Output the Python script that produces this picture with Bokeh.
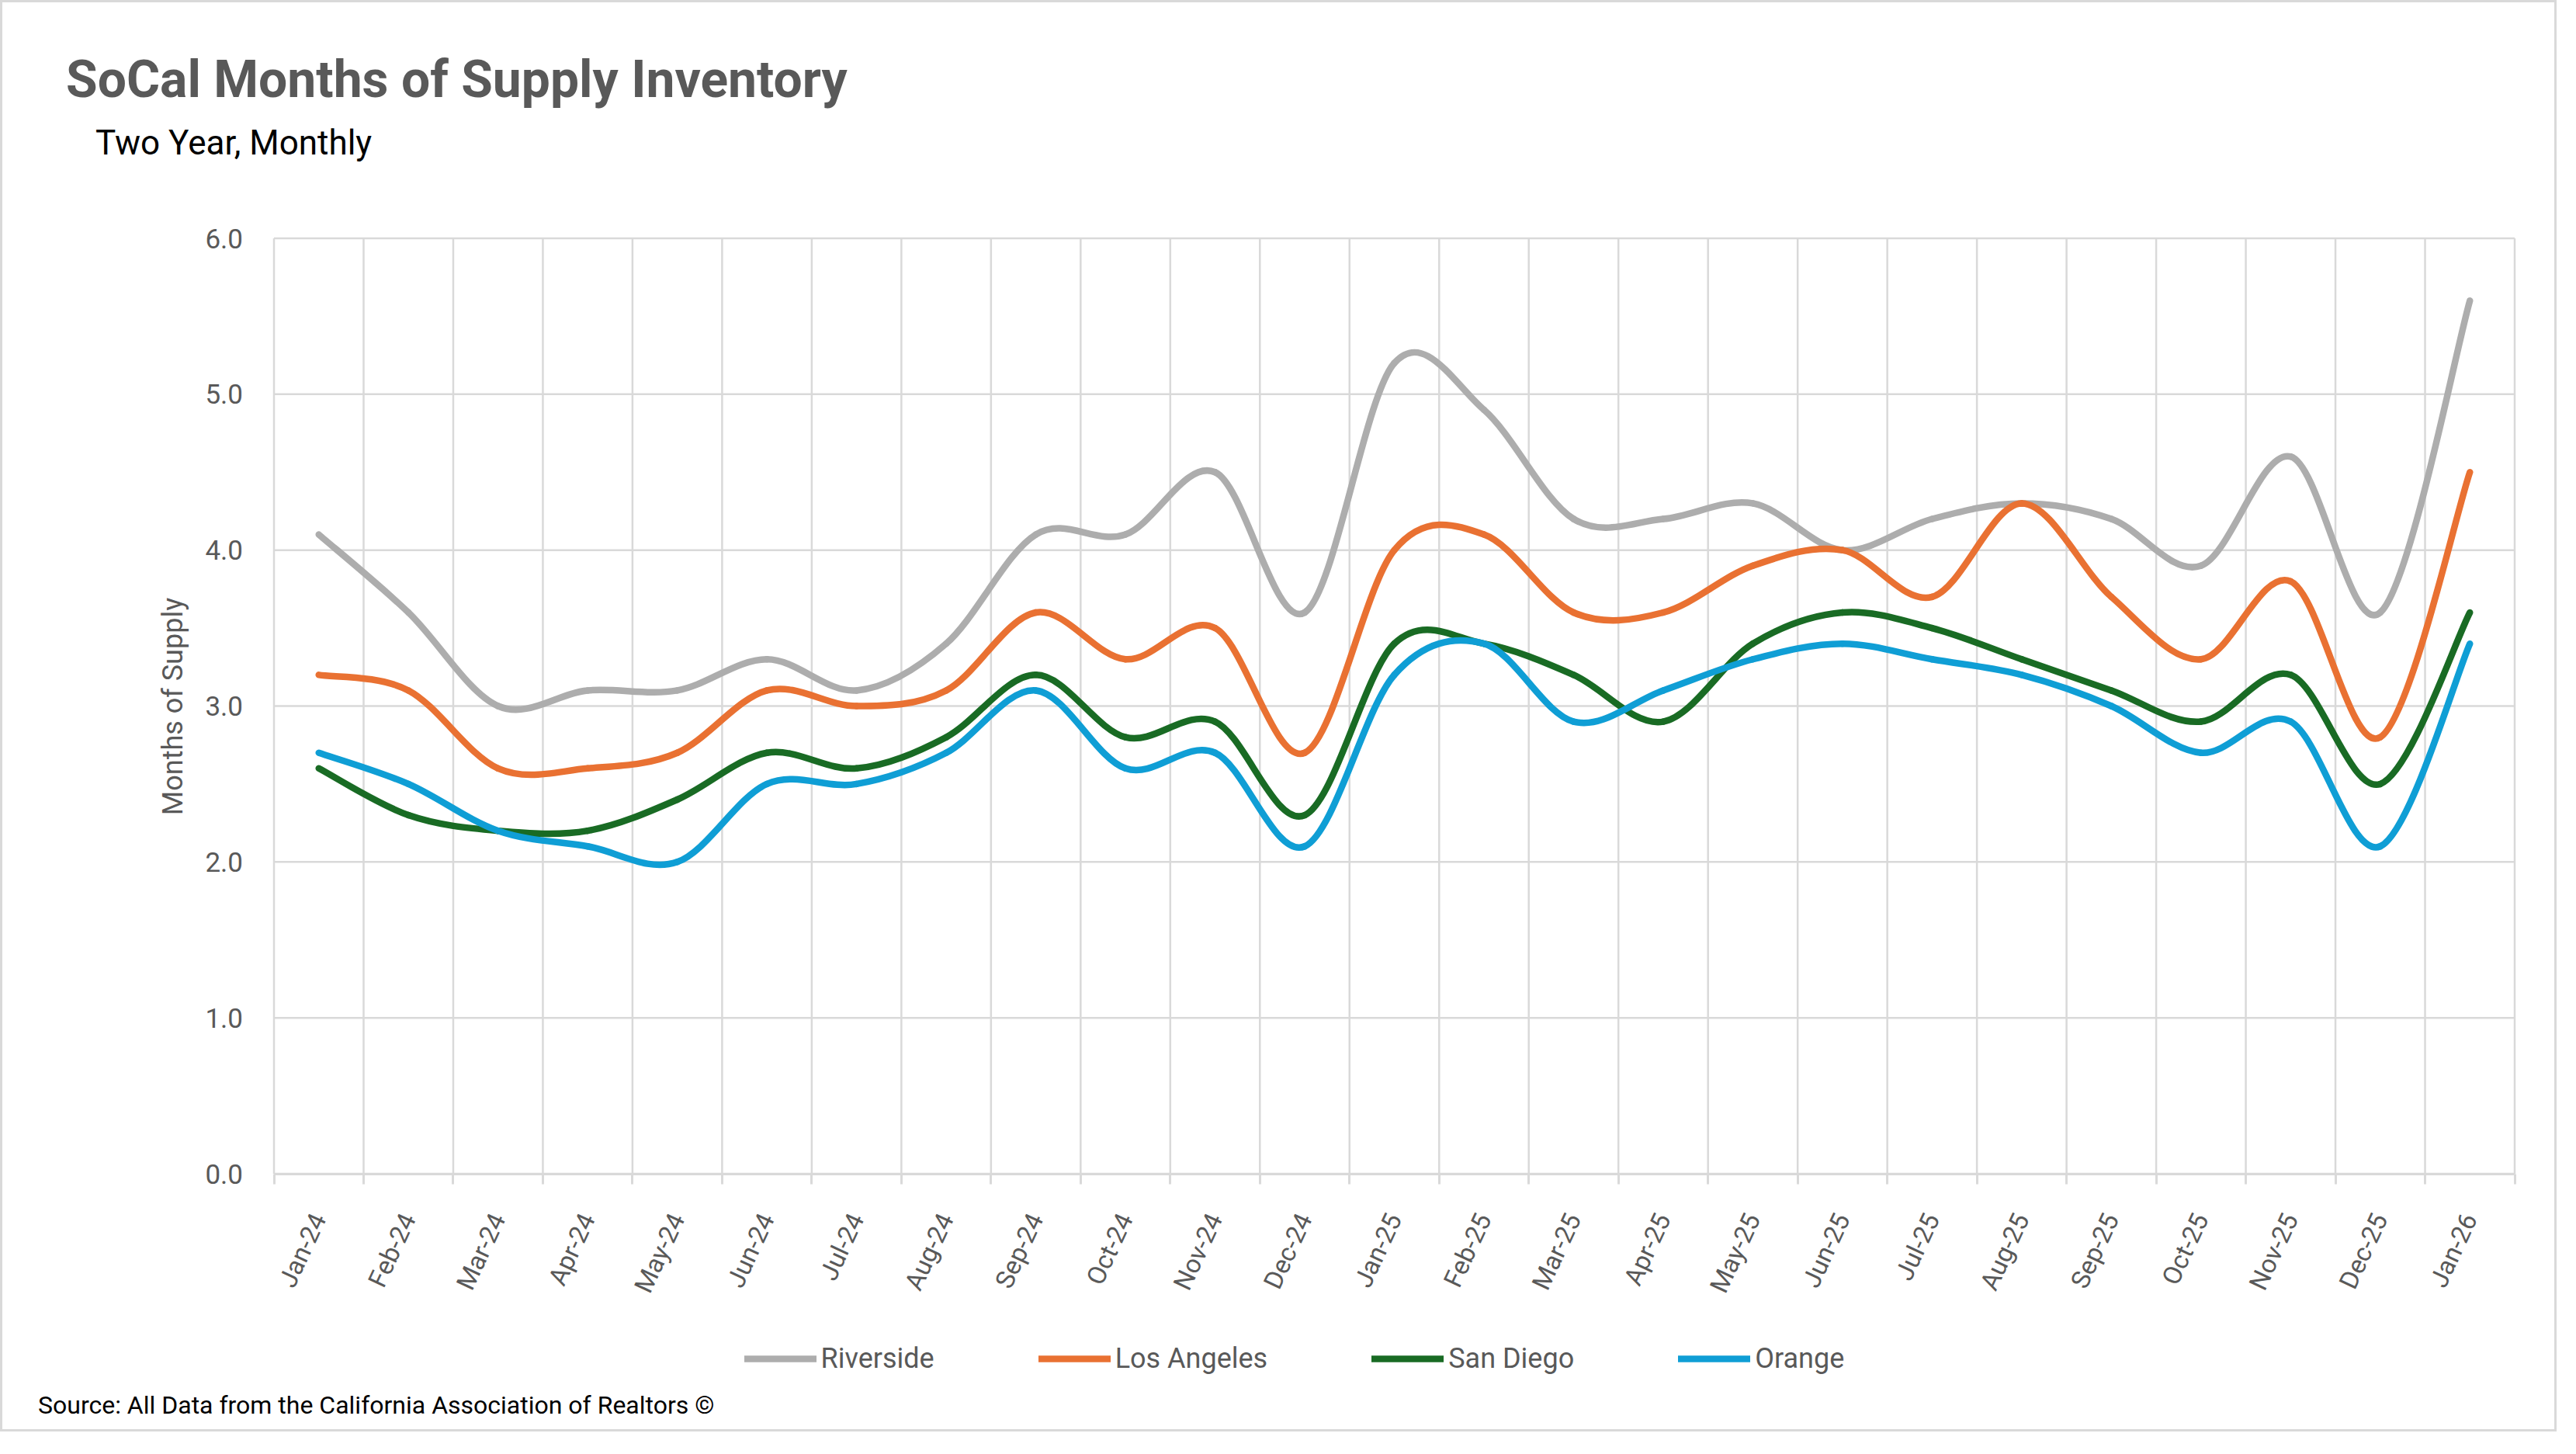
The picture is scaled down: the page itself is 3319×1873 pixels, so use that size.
import math
from bokeh.plotting import figure
from bokeh.models import (FixedTicker, NumeralTickFormatter, Label, Legend,
                          LegendItem, Range1d, ColumnDataSource)
from bokeh.embed import file_html
from bokeh.resources import INLINE

# ---------------- data ----------------
months = ["Jan-24", "Feb-24", "Mar-24", "Apr-24", "May-24", "Jun-24", "Jul-24",
          "Aug-24", "Sep-24", "Oct-24", "Nov-24", "Dec-24", "Jan-25", "Feb-25",
          "Mar-25", "Apr-25", "May-25", "Jun-25", "Jul-25", "Aug-25", "Sep-25",
          "Oct-25", "Nov-25", "Dec-25", "Jan-26"]

riverside = [4.1, 3.6, 3.0, 3.1, 3.1, 3.3, 3.1, 3.4, 4.1, 4.1, 4.5, 3.6, 5.2,
             4.9, 4.2, 4.2, 4.3, 4.0, 4.2, 4.3, 4.2, 3.9, 4.6, 3.6, 5.6]
los_angeles = [3.2, 3.1, 2.6, 2.6, 2.7, 3.1, 3.0, 3.1, 3.6, 3.3, 3.5, 2.7, 4.0,
               4.1, 3.6, 3.6, 3.9, 4.0, 3.7, 4.3, 3.7, 3.3, 3.8, 2.8, 4.5]
san_diego = [2.6, 2.3, 2.2, 2.2, 2.4, 2.7, 2.6, 2.8, 3.2, 2.8, 2.9, 2.3, 3.4,
             3.4, 3.2, 2.9, 3.4, 3.6, 3.5, 3.3, 3.1, 2.9, 3.2, 2.5, 3.6]
orange = [2.7, 2.5, 2.2, 2.1, 2.0, 2.5, 2.5, 2.7, 3.1, 2.6, 2.7, 2.1, 3.2,
          3.4, 2.9, 3.1, 3.3, 3.4, 3.3, 3.2, 3.0, 2.7, 2.9, 2.1, 3.4]

series_names = ["Riverside", "Los Angeles", "San Diego", "Orange"]
series_values = [riverside, los_angeles, san_diego, orange]
series_colors = ["#ADADAD", "#E97132", "#196B24", "#0F9ED5"]

y_ticks = [0, 1, 2, 3, 4, 5, 6]

title_text = "SoCal Months of Supply Inventory"
subtitle_text = "Two Year, Monthly"
source_text = "Source: All Data from the California Association of Realtors \u00a9"

# ---------------- layout constants (page pixels) ----------------
W, H = 3294, 1844          # canvas size
OX, OY = 3.5, 3.5          # canvas origin on the page
PL, PR = 353.0, 3240.0     # plot area left / right
PT, PB = 307.0, 1512.0     # plot area top (y=6) / bottom (y=0)

n = len(months)
x_lo, x_hi = -0.5, n - 0.5
y_lo, y_hi = 0.0, 6.0
sx = (PR - PL) / (x_hi - x_lo)
sy = (PB - PT) / (y_hi - y_lo)

def px2x(px):
    return x_lo + (px - PL) / sx

def px2y(py):
    return y_lo + (PB - py) / sy

FONT = "Roboto"
GRID = "#D9D9D9"
TXT = "#595959"

p = figure(width=W, height=H, output_backend="svg", toolbar_location=None,
           x_range=Range1d(px2x(OX), px2x(OX + W)),
           y_range=Range1d(px2y(OY + H), px2y(OY)),
           min_border=0, min_border_left=0, min_border_right=0,
           min_border_top=0, min_border_bottom=0)
p.styles = {"border": "3px solid #D9D9D9"}
p.outline_line_color = None
p.background_fill_color = "white"
p.border_fill_color = "white"
p.grid.visible = False

xs = list(range(n))
boundaries = [i - 0.5 for i in range(n + 1)]

# ---------------- grid lines ----------------
p.segment(x0=boundaries, y0=y_lo, x1=boundaries, y1=y_hi,
          line_color=GRID, line_width=2.5)
p.segment(x0=x_lo, y0=y_ticks, x1=x_hi, y1=y_ticks,
          line_color=GRID, line_width=2.5)

# ---------------- x axis (at y = 0) ----------------
xa = p.xaxis[0]
xa.fixed_location = 0
xa.bounds = (x_lo, x_hi)
xa.ticker = FixedTicker(ticks=xs, minor_ticks=boundaries)
xa.major_label_overrides = {i: m for i, m in enumerate(months)}
xa.major_label_orientation = math.radians(65)
xa.major_tick_line_color = None
xa.major_tick_out = 0
xa.major_tick_in = 0
xa.minor_tick_line_color = GRID
xa.minor_tick_line_width = 3
xa.minor_tick_out = 13
xa.minor_tick_in = 0
xa.axis_line_color = GRID
xa.axis_line_width = 3
xa.major_label_standoff = 40
xa.major_label_text_font = FONT
xa.major_label_text_font_size = "33px"
xa.major_label_text_color = TXT

# ---------------- y axis (at left edge of plot area) ----------------
ya = p.yaxis[0]
ya.fixed_location = x_lo
ya.bounds = (y_lo, y_hi)
ya.ticker = FixedTicker(ticks=y_ticks)
ya.formatter = NumeralTickFormatter(format="0.0")
ya.major_tick_line_color = None
ya.minor_tick_line_color = None
ya.major_tick_out = 0
ya.major_tick_in = 0
ya.axis_line_color = None
ya.major_label_standoff = 40
ya.major_label_text_font = FONT
ya.major_label_text_font_size = "35px"
ya.major_label_text_color = TXT
ya.axis_label = "Months of Supply"
ya.axis_label_text_font = FONT
ya.axis_label_text_font_style = "normal"
ya.axis_label_text_font_size = "36px"
ya.axis_label_text_color = TXT
ya.axis_label_standoff = 18

# ---------------- smoothed lines (Bezier through the data points) ----------------
def bezier_source(x, y):
    m = len(y)
    d = dict(x0=[], y0=[], x1=[], y1=[], cx0=[], cy0=[], cx1=[], cy1=[])
    for i in range(m - 1):
        xp, yp = (x[i - 1], y[i - 1]) if i > 0 else (x[i], y[i])
        xn, yn = (x[i + 2], y[i + 2]) if i + 2 < m else (x[i + 1], y[i + 1])
        d["x0"].append(x[i]); d["y0"].append(y[i])
        d["x1"].append(x[i + 1]); d["y1"].append(y[i + 1])
        d["cx0"].append(x[i] + (x[i + 1] - xp) / 6.0)
        d["cy0"].append(y[i] + (y[i + 1] - yp) / 6.0)
        d["cx1"].append(x[i + 1] - (xn - x[i]) / 6.0)
        d["cy1"].append(y[i + 1] - (yn - y[i]) / 6.0)
    return ColumnDataSource(d)

items = []
for name, vals, col in zip(series_names, series_values, series_colors):
    src = bezier_source(xs, vals)
    r = p.bezier(x0="x0", y0="y0", x1="x1", y1="y1", cx0="cx0", cy0="cy0",
                 cx1="cx1", cy1="cy1", source=src, line_color=col,
                 line_width=8.5, line_cap="round")
    items.append(LegendItem(label=name, renderers=[r]))

# ---------------- legend ----------------
legend = Legend(items=items, orientation="horizontal",
                location=(959 - OX, (OY + H) - 1771.5),
                glyph_width=93, glyph_height=20, label_standoff=6, spacing=134,
                padding=0, margin=0, border_line_color=None,
                background_fill_alpha=0, label_text_font=FONT,
                label_text_font_size="36px", label_text_color=TXT)
p.add_layout(legend)

# ---------------- texts ----------------
p.add_layout(Label(x=px2x(85), y=px2y(102), text=title_text, text_font=FONT,
                   text_font_style="bold", text_font_size="66px",
                   text_color=TXT, text_baseline="alphabetic"))
p.add_layout(Label(x=px2x(123), y=px2y(184), text=subtitle_text,
                   text_font=FONT, text_font_size="44px", text_color="black",
                   text_baseline="alphabetic"))
p.add_layout(Label(x=px2x(49), y=px2y(1810), text=source_text,
                   text_font=FONT, text_font_size="32px", text_color="black",
                   text_baseline="alphabetic"))

open("out.html", "w").write(file_html(p, INLINE))
